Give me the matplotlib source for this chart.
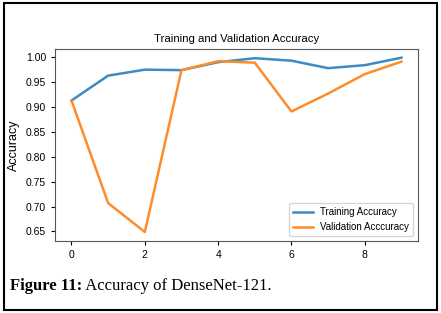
import numpy as np
import matplotlib.pyplot as plt
from matplotlib.patches import Rectangle

epochs = list(range(10))
train_acc = [0.913, 0.963, 0.975, 0.974, 0.990, 0.998, 0.993, 0.978, 0.984, 0.999]
val_acc = [0.913, 0.707, 0.649, 0.974, 0.992, 0.989, 0.891, 0.927, 0.966, 0.991]
title = 'Training and Validation Accuracy'
caption_bold = 'Figure 11:'
caption_text = ' Accuracy of DenseNet-121.'

plt.rcParams['font.family'] = ['Liberation Sans', 'DejaVu Sans']

fig = plt.figure(figsize=(4.41, 3.13), dpi=100)
ax = fig.add_axes([0.1247, 0.231, 0.823, 0.6125])

ax.plot(epochs, train_acc, color='#3a8bc6', lw=1.8, label='Training Accuracy')
ax.plot(epochs, val_acc, color='#ff8c2a', lw=1.8, label='Validation Acccuracy')
ax.set_title(title, fontsize=8.2, pad=5)
ax.set_ylabel('Accuracy', fontsize=9)
ax.yaxis.set_label_coords(-0.096, 0.5)
ax.tick_params(labelsize=7.5, length=3)
ax.set_xticks([0, 2, 4, 6, 8])
for s in ax.spines.values():
    s.set_color('#555555')
ax.legend(loc='lower right', fontsize=7, handlelength=2)

# caption under the plot
t = fig.text(0.023, 0.075, caption_bold, fontsize=12, family='Liberation Serif',
             weight='bold', va='baseline')
fig.canvas.draw()
bb = t.get_window_extent()
fig.text(bb.x1 / fig.bbox.width, 0.075, caption_text, fontsize=12,
         family='Liberation Serif', va='baseline')

# outer frame
fig.patches.append(Rectangle((0.008, 0.01), 0.983, 0.98, transform=fig.transFigure,
                             fill=False, ec='black', lw=1.5))

fig.savefig('out.png', dpi=100)
